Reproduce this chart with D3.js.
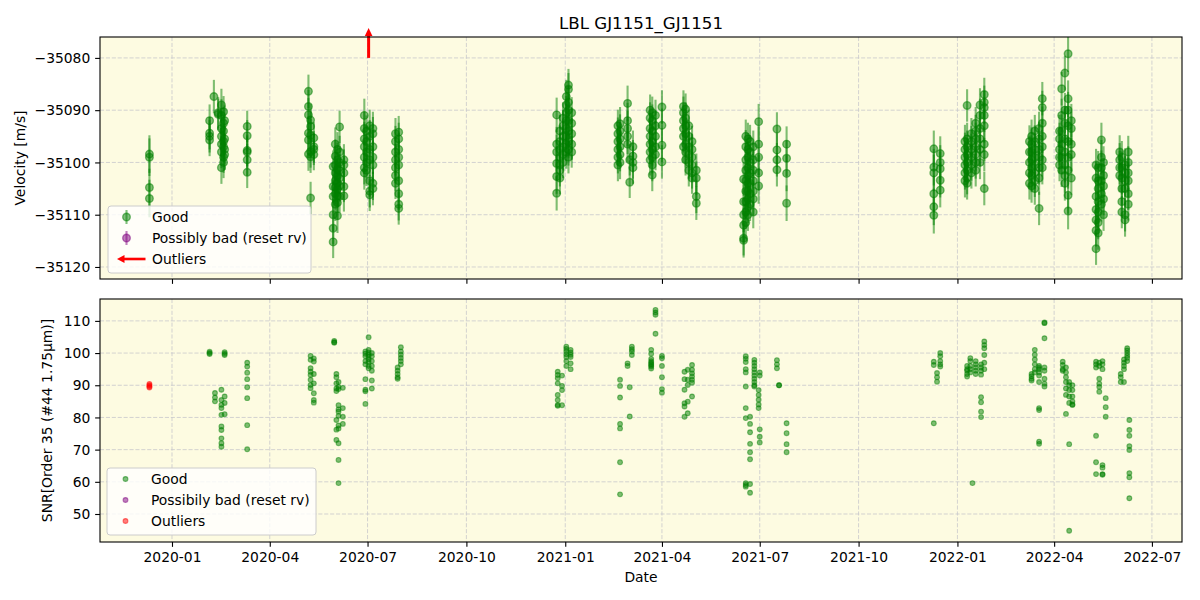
<!DOCTYPE html>
<html><head><meta charset="utf-8">
<script src="https://cdn.jsdelivr.net/npm/d3@7"></script>
<style>body{margin:0;background:#fff}text{font-family:"DejaVu Sans",sans-serif;fill:#000}</style>
</head><body><svg id="c" width="1200" height="600"></svg>
<script>
// ---------------- DATA ----------------
const titleText = "LBL GJ1151_GJ1151";
const dateTicks = ["2020-01-01","2020-04-01","2020-07-01","2020-10-01","2021-01-01","2021-04-01","2021-07-01","2021-10-01","2022-01-01","2022-04-01","2022-07-01"];
const dateTickLabels = ["2020-01","2020-04","2020-07","2020-10","2021-01","2021-04","2021-07","2021-10","2022-01","2022-04","2022-07"];
const rvTicks = [-35120,-35110,-35100,-35090,-35080];
const snrTicks = [50,60,70,80,90,100,110];

// velocity (Good) per night
const rvNights = ["2019-12-11","2020-02-05","2020-02-09","2020-02-13","2020-02-16","2020-02-18","2020-02-19","2020-03-11",
 "2020-05-07","2020-05-09","2020-05-12","2020-05-30","2020-06-01","2020-06-03","2020-06-05","2020-06-09",
 "2020-06-28","2020-06-30","2020-07-03","2020-07-06","2020-07-27","2020-07-30",
 "2020-12-24","2020-12-27","2020-12-30","2021-01-02","2021-01-04","2021-01-07",
 "2021-02-19","2021-02-21","2021-02-28","2021-03-02","2021-03-05","2021-03-21","2021-03-23","2021-03-26","2021-04-01",
 "2021-04-21","2021-04-23","2021-04-26","2021-04-29","2021-05-03",
 "2021-06-16","2021-06-18","2021-06-20","2021-06-22","2021-06-25","2021-06-30","2021-07-17","2021-07-26",
 "2021-12-10","2021-12-16","2022-01-08","2022-01-10","2022-01-14","2022-01-18","2022-01-22","2022-01-26",
 "2022-03-09","2022-03-11","2022-03-14","2022-03-18","2022-03-21",
 "2022-04-06","2022-04-08","2022-04-11","2022-04-14","2022-04-17",
 "2022-05-10","2022-05-12","2022-05-15","2022-05-17","2022-06-01","2022-06-03","2022-06-06","2022-06-09"];
const rvValues = [
 [-35098.4,-35099.0,-35104.8,-35106.9],
 [-35092.0,-35094.4,-35095.7,-35095.0],
 [-35087.4],
 [-35090.5,-35090.8],
 [-35089.0,-35091.0,-35093.5,-35095.0,-35096.5,-35098.0,-35101.0],
 [-35090.3,-35092.5,-35094.0,-35096.0,-35097.0,-35099.0,-35100.0],
 [-35092.0,-35095.5,-35097.5,-35098.5],
 [-35093.1,-35094.9,-35097.7,-35098.0,-35099.5,-35101.9],
 [-35086.4,-35089.3,-35090.9,-35094.4,-35095.7,-35098.4],
 [-35091.9,-35093.1,-35094.8,-35097.9,-35098.9,-35106.8],
 [-35095.3,-35097.5,-35098.5,-35097.0],
 [-35100.8,-35104.6,-35106.5,-35110.0,-35112.6,-35115.2],
 [-35096.5,-35098.8,-35100.5,-35102.0,-35103.5,-35104.8,-35106.0,-35108.0],
 [-35097.5,-35099.5,-35101.3,-35102.6,-35103.9,-35105.1,-35106.4,-35107.7,-35110.2],
 [-35093.2,-35098.0,-35100.0,-35101.5,-35103.0,-35104.5,-35106.5],
 [-35099.5,-35102.0,-35104.6,-35106.4,-35100.5],
 [-35091.0,-35093.5,-35095.5,-35097.0,-35099.0,-35101.0,-35102.0],
 [-35094.0,-35096.0,-35098.0,-35100.0,-35101.5],
 [-35093.0,-35095.0,-35097.5,-35099.5,-35103.5,-35105.5,-35106.2],
 [-35093.5,-35094.5,-35097.0,-35099.0,-35100.5,-35104.0,-35105.0],
 [-35094.5,-35096.0,-35098.0,-35099.5,-35101.0,-35102.5,-35104.0],
 [-35094.2,-35095.5,-35097.5,-35099.0,-35100.5,-35103.5,-35106.0,-35108.0,-35108.8],
 [-35090.9,-35096.5,-35098.0,-35100.2,-35102.7,-35105.9],
 [-35094.0,-35096.0,-35097.5,-35099.0,-35100.5,-35101.5,-35103.0],
 [-35091.5,-35093.0,-35095.0,-35097.0,-35098.5,-35100.0],
 [-35087.4,-35089.0,-35090.5,-35092.0,-35093.5,-35095.0,-35096.5,-35098.0],
 [-35085.2,-35086.0,-35088.5,-35090.0,-35092.0,-35094.0,-35096.0,-35097.5,-35099.0],
 [-35090.5,-35092.5,-35094.5,-35096.5,-35098.0],
 [-35093.0,-35094.5,-35096.0,-35097.5,-35099.0,-35100.5],
 [-35092.6,-35094.0,-35095.5,-35097.0,-35098.5,-35100.0],
 [-35088.7,-35092.0,-35093.5,-35095.0,-35096.5],
 [-35103.8,-35099.5],
 [-35097.0,-35098.8,-35100.0,-35101.0],
 [-35090.0,-35091.5,-35093.5,-35095.0,-35096.5,-35098.0,-35099.5],
 [-35090.5,-35092.0,-35094.0,-35096.0,-35097.5,-35099.0,-35100.5,-35102.4],
 [-35091.0,-35093.0,-35095.0,-35097.0,-35098.5],
 [-35089.4,-35092.9,-35096.7,-35099.9],
 [-35089.3,-35090.5,-35092.0,-35093.5,-35095.0,-35097.0],
 [-35089.8,-35091.5,-35093.0,-35094.5,-35096.5,-35098.0,-35099.5],
 [-35093.0,-35095.0,-35097.0,-35098.5,-35100.0,-35101.5],
 [-35096.0,-35097.5,-35099.0,-35100.5,-35102.0,-35103.0],
 [-35101.5,-35103.0,-35106.5,-35107.8],
 [-35103.2,-35107.5,-35110.0,-35112.0,-35114.5,-35114.9],
 [-35095.0,-35097.0,-35099.5,-35101.5,-35103.5,-35105.5,-35107.5,-35109.5,-35111.5],
 [-35095.5,-35097.5,-35099.0,-35101.0,-35102.5,-35104.0,-35105.5,-35107.0,-35108.5,-35110.0],
 [-35096.0,-35098.0,-35100.0,-35102.0,-35104.0,-35106.0,-35108.0],
 [-35097.0,-35099.5,-35101.5,-35103.5,-35105.5,-35107.0,-35109.5],
 [-35092.2,-35096.5,-35099.0,-35102.0,-35104.5],
 [-35093.6,-35097.6,-35099.5,-35101.4],
 [-35096.5,-35099.2,-35102.1,-35107.8],
 [-35097.4,-35100.9,-35102.0,-35106.0,-35108.5,-35110.1],
 [-35098.3,-35100.0,-35101.2,-35103.4,-35105.3],
 [-35096.0,-35097.5,-35099.0,-35100.5,-35102.0,-35103.5],
 [-35089.1,-35095.5,-35097.0,-35098.5,-35100.0,-35101.5,-35103.0,-35104.0],
 [-35094.5,-35096.0,-35097.5,-35099.0,-35100.5,-35102.0],
 [-35092.5,-35094.0,-35095.5,-35097.0,-35098.5,-35100.0,-35101.5],
 [-35089.0,-35091.0,-35093.5,-35095.5,-35097.5,-35100.0],
 [-35087.0,-35088.5,-35089.5,-35091.0,-35093.0,-35096.5,-35098.5,-35105.0],
 [-35096.0,-35098.0,-35100.0,-35102.0,-35104.0],
 [-35095.0,-35096.5,-35098.0,-35099.5,-35101.0,-35102.5,-35104.5],
 [-35094.0,-35096.0,-35097.5,-35099.0,-35100.5,-35102.0,-35103.5,-35105.0],
 [-35093.5,-35095.5,-35097.5,-35099.0,-35101.0,-35103.0,-35108.8],
 [-35087.8,-35089.5,-35092.5,-35095.0,-35097.0,-35099.5,-35101.0],
 [-35094.0,-35095.5,-35097.5,-35099.0,-35100.5],
 [-35085.9,-35091.0,-35094.0,-35096.5,-35099.0,-35101.5],
 [-35082.9,-35090.0,-35092.5,-35095.5,-35098.0,-35100.5,-35102.5,-35104.0],
 [-35079.2,-35087.8,-35090.0,-35093.0,-35096.0,-35099.0,-35101.5,-35106.3,-35109.3],
 [-35092.0,-35093.5,-35096.5,-35098.5,-35103.0],
 [-35100.5,-35103.0,-35106.5,-35109.0,-35111.0,-35113.0,-35116.5],
 [-35101.0,-35103.5,-35105.0,-35107.5,-35109.5,-35111.5,-35113.5],
 [-35095.7,-35099.0,-35101.0,-35103.5,-35106.0,-35108.0],
 [-35100.0,-35102.5,-35104.5,-35107.0,-35110.0],
 [-35098.0,-35099.5,-35101.0,-35102.5],
 [-35099.0,-35101.0,-35103.0,-35105.0,-35107.5,-35109.5],
 [-35100.5,-35102.0,-35103.5,-35105.0,-35110.0,-35111.0],
 [-35098.0,-35100.0,-35102.0,-35103.5,-35106.0,-35108.0]];
// typical velocity uncertainty per night [m/s]
const rvNightErrors = [3.6,3.1,3.2,3.0,3.1,3.0,2.9,3.0,3.2,3.1,3.0,3.1,3.2,3.3,3.1,3.0,3.2,3.0,3.1,3.2,3.0,3.1,
 3.3,3.1,3.0,3.2,3.1,3.0,3.1,3.2,3.4,3.0,3.1,3.0,3.1,3.0,3.2,3.1,3.0,3.1,3.0,3.2,
 3.3,3.2,3.1,3.2,3.1,3.4,3.2,3.4,3.5,3.3,3.2,3.1,3.0,3.1,3.2,3.2,3.1,3.2,3.1,3.2,3.2,
 3.1,3.2,3.3,3.5,3.2,3.1,3.2,3.3,3.1,3.2,3.1,3.2,3.1];
// outlier above the plotted range (drawn as an arrow)
const rvOutlierArrowNights = ["2020-07-02"];

// SNR (Good) per night
const snrNights = ["2020-02-05","2020-02-10","2020-02-16","2020-02-19","2020-03-11","2020-05-09","2020-05-12",
 "2020-05-31","2020-06-02","2020-06-04","2020-06-08","2020-06-29","2020-07-02","2020-07-05","2020-07-29","2020-08-01",
 "2020-12-25","2020-12-29","2021-01-02","2021-01-06","2021-02-21","2021-02-28","2021-03-02","2021-03-04",
 "2021-03-22","2021-03-26","2021-04-01","2021-04-22","2021-04-25","2021-04-29",
 "2021-06-18","2021-06-22","2021-06-26","2021-06-30","2021-07-01","2021-07-17","2021-07-19","2021-07-26",
 "2021-12-10","2021-12-13","2021-12-16","2022-01-10","2022-01-13","2022-01-15","2022-01-18","2022-01-23","2022-01-26",
 "2022-03-11","2022-03-14","2022-03-18","2022-03-23","2022-04-09","2022-04-12","2022-04-15","2022-04-18",
 "2022-05-10","2022-05-13","2022-05-16","2022-05-19","2022-06-02","2022-06-05","2022-06-08","2022-06-10"];
const snrValues = [
 [100.4,100.0,99.7],
 [87.6,86.2,85.0],
 [88.6,85.4,83.9,82.9,80.8,77.2,76.1,73.5,72.0,70.9],
 [100.3,99.8,99.4,86.5,84.5,81.0],
 [97.0,95.8,93.9,91.9,89.4,86.0,77.6,70.1],
 [99.1,97.9,95.3,94.2,93.2,91.7,90.1,89.1],
 [98.3,97.4,93.5,90.6,87.5,85.4,84.6],
 [103.8,103.4,103.2],
 [93.5,92.5,90.6,89.0,88.2,79.2,76.2,73.0],
 [91.0,89.5,88.8,83.8,82.5,81.8,80.5,77.5,76.6,72.0,66.8,59.6],
 [89.2,82.9,80.2,78.0],
 [100.5,99.8,99.0,97.5,96.5,91.9,88.6,88.1,84.2],
 [104.9,101.0,100.2,99.5,98.8,98.0,97.2,96.0,95.3],
 [100.0,99.0,97.5,96.0,94.5,91.5,89.0],
 [92.0,92.5,93.5,94.5,95.5],
 [96.5,97.5,98.5,99.5,100.5,101.8],
 [94.2,93.2,92.2,90.6,87.0,85.4,83.9,83.6],
 [89.8,88.5,93.0,83.8],
 [102.0,101.3,100.5,99.6,98.8,97.5,96.0],
 [101.0,100.2,99.5,98.8,96.8,95.0],
 [91.7,89.8,86.2,78.0,76.6,66.1,56.1],
 [96.8,96.0],
 [89.4,80.3],
 [102.0,101.2,100.5,99.4],
 [101.0,99.8,98.2,97.5,97.0,96.6,96.2,95.8,95.2],
 [113.4,112.6,111.9,106.0],
 [99.1,98.4,96.0,92.5,88.8,87.7],
 [94.2,91.9,88.6,84.4,83.4,80.2],
 [94.8,91.7,90.1,84.9,81.3],
 [96.3,94.8,93.7,92.7,91.7,90.8,86.5],
 [99.0,98.2,97.2,95.0,94.0,89.6,82.9,79.8,59.6,59.0,58.5],
 [80.2,78.0,75.4,71.8,69.2,67.0,59.3,56.6],
 [97.9,97.0,96.0,95.0,94.0,93.0,92.0,91.0,90.0,89.6],
 [88.5,87.0,85.5,84.0,82.9],
 [94.0,93.0,76.3,74.0,72.2],
 [97.8,96.5,95.3],
 [90.0,90.0],
 [78.2,75.1,71.7,69.2],
 [97.3,96.3,78.2],
 [93.8,92.5,91.1],
 [100.0,99.0,97.5,96.5,95.8],
 [94.5,93.5,92.7,96.0,95.0],
 [98.4,97.5,96.0,95.0,94.0],
 [59.6],
 [97.5,96.5,95.5,94.5,93.5],
 [96.5,95.5,94.5,93.3,86.3,84.7,81.8,80.1],
 [103.6,102.5,101.5,99.4,97.0,95.0],
 [93.5,92.8,92.0,91.5],
 [101.0,99.5,98.0,96.5,95.0,94.0],
 [96.0,95.5,95.0,94.0,93.0,91.0,82.9,82.3,72.5,71.8],
 [109.5,109.3,104.6,95.5,94.5,92.0,90.5,89.6],
 [97.3,96.3,95.0,94.5],
 [95.5,94.0,92.5,91.0,89.0,87.0,81.1],
 [91.0,90.0,88.5,86.5,84.5,71.7,44.8],
 [90.0,88.5,86.5,85.0,84.0,83.9],
 [97.3,96.5,95.5,74.3,66.1,62.4],
 [97.0,96.0,92.0,90.5,89.5,88.0],
 [97.5,96.5,95.0,65.2,64.4,62.2,62.4],
 [86.0,83.2,80.2],
 [93.5,92.5,91.0],
 [98.0,97.0,96.0,95.0,91.0],
 [101.5,100.8,100.0,99.2,98.5,97.5],
 [79.2,76.1,74.3,71.1,69.9,62.7,61.4,54.9]];
// SNR outliers
const snrOutlierNights = ["2019-12-11"];
const snrOutlierValues = [[90.4,90.0,89.6,89.3]];

// ---------------- DRAW ----------------
const svg = d3.select("#c");
const L = 100, R = 1182, T1 = 37, B1 = 279, T2 = 299, B2 = 542;
const parse = d3.utcParse("%Y-%m-%d");
const x = d3.scaleUtc().domain([parse("2019-10-26"), parse("2022-07-29")]).range([L, R]);
const y1 = d3.scaleLinear().domain([-35122.3, -35076.0]).range([B1, T1]);
const y2 = d3.scaleLinear().domain([41.3, 116.8]).range([B2, T2]);
const GREEN = "#008000", FS = 13.89;

function flat(nights, vals, errs) {
  const out = [];
  nights.forEach((n, i) => vals[i].forEach(v => out.push({d: parse(n), v, e: errs ? errs[i] : 0})));
  return out;
}
const rvPts = flat(rvNights, rvValues, rvNightErrors);
const snrPts = flat(snrNights, snrValues);
const outPts = flat(snrOutlierNights, snrOutlierValues);

const defs = svg.append("defs");
[["c1", T1, B1], ["c2", T2, B2]].forEach(([id, t, b]) =>
  defs.append("clipPath").attr("id", id).append("rect").attr("x", L).attr("y", t).attr("width", R - L).attr("height", b - t));

function panel(t, b, y, yTicks, clip, showXLabels) {
  const g = svg.append("g");
  g.append("rect").attr("x", L).attr("y", t).attr("width", R - L).attr("height", b - t).attr("fill", "#fdfbe1");
  const grid = g.append("g").attr("stroke", "#c8c8cc").attr("stroke-width", 0.8).attr("stroke-dasharray", "4.1,1.8");
  dateTicks.forEach(s => { const xx = x(parse(s)); grid.append("line").attr("x1", xx).attr("x2", xx).attr("y1", t).attr("y2", b); });
  yTicks.forEach(v => grid.append("line").attr("x1", L).attr("x2", R).attr("y1", y(v)).attr("y2", y(v)));
  const ax = svg.append("g").attr("transform", `translate(0,${b})`)
    .call(d3.axisBottom(x).tickValues(dateTicks.map(parse)).tickSize(4.86).tickPadding(4.86)
      .tickFormat((d, i) => showXLabels ? dateTickLabels[i] : ""));
  const ay = svg.append("g").attr("transform", `translate(${L},0)`)
    .call(d3.axisLeft(y).tickValues(yTicks).tickSize(4.86).tickPadding(4.86)
      .tickFormat(d => d < 0 ? "\u2212" + Math.abs(d) : String(d)));
  [ax, ay].forEach(a => {
    a.select(".domain").remove();
    a.selectAll("line").attr("stroke", "#000").attr("stroke-width", 1.1);
    a.selectAll("text").attr("font-size", FS).attr("font-family", "DejaVu Sans").attr("fill", "#000");
  });
  ay.selectAll("text").attr("dy", "0.34em");
  ax.selectAll("text").attr("dy", "0.76em");
  const data = svg.append("g").attr("clip-path", `url(#${clip})`);
  return {data};
}

const p1 = panel(T1, B1, y1, rvTicks, "c1", false);
const p2 = panel(T2, B2, y2, snrTicks, "c2", true);

// top: error bars + markers
p1.data.append("g").selectAll("line").data(rvPts).join("line")
  .attr("x1", d => x(d.d)).attr("x2", d => x(d.d))
  .attr("y1", d => y1(d.v + d.e)).attr("y2", d => y1(d.v - d.e))
  .attr("stroke", GREEN).attr("stroke-opacity", 0.5).attr("stroke-width", 2.1);
p1.data.append("g").selectAll("circle").data(rvPts).join("circle")
  .attr("cx", d => x(d.d)).attr("cy", d => y1(d.v)).attr("r", 3.8)
  .attr("fill", GREEN).attr("fill-opacity", 0.5)
  .attr("stroke", GREEN).attr("stroke-opacity", 0.5).attr("stroke-width", 1.4);

// arrow for out-of-range outlier
rvOutlierArrowNights.forEach(n => {
  const xx = x(parse(n));
  const y0 = y1(-35080), ytip = T1 - 9;
  svg.append("line").attr("x1", xx).attr("x2", xx).attr("y1", y0).attr("y2", ytip + 6)
    .attr("stroke", "red").attr("stroke-width", 3);
  svg.append("path").attr("d", `M${xx},${ytip} L${xx - 3.8},${ytip + 8} L${xx + 3.8},${ytip + 8} Z`).attr("fill", "red");
});

// bottom: SNR markers
p2.data.append("g").selectAll("circle").data(snrPts).join("circle")
  .attr("cx", d => x(d.d)).attr("cy", d => y2(d.v)).attr("r", 2.4)
  .attr("fill", GREEN).attr("fill-opacity", 0.5)
  .attr("stroke", GREEN).attr("stroke-opacity", 0.5).attr("stroke-width", 1.1);
p2.data.append("g").selectAll("circle").data(outPts).join("circle")
  .attr("cx", d => x(d.d)).attr("cy", d => y2(d.v)).attr("r", 2.4)
  .attr("fill", "red").attr("fill-opacity", 0.5)
  .attr("stroke", "red").attr("stroke-opacity", 0.5).attr("stroke-width", 1.1);

// frames
[[T1, B1], [T2, B2]].forEach(([t, b]) =>
  svg.append("rect").attr("x", L).attr("y", t).attr("width", R - L).attr("height", b - t)
    .attr("fill", "none").attr("stroke", "#000").attr("stroke-width", 1.1));

// texts
svg.append("text").attr("x", (L + R) / 2).attr("y", 29).attr("text-anchor", "middle").attr("font-size", 16.67).text(titleText);
svg.append("text").attr("x", (L + R) / 2).attr("y", 582).attr("text-anchor", "middle").attr("font-size", FS).text("Date");
svg.append("text").attr("transform", `translate(25,${(T1 + B1) / 2}) rotate(-90)`).attr("text-anchor", "middle").attr("font-size", FS).text("Velocity [m/s]");
svg.append("text").attr("transform", `translate(52,${(T2 + B2) / 2}) rotate(-90)`).attr("text-anchor", "middle").attr("font-size", FS).text("SNR[Order 35 (#44 1.75\u03bcm)]");

// legends
function legend(x0, y0, w, h, rows, kind) {
  const g = svg.append("g");
  g.append("rect").attr("x", x0).attr("y", y0).attr("width", w).attr("height", h).attr("rx", 3)
    .attr("fill", "#fff").attr("fill-opacity", 0.8).attr("stroke", "#cccccc").attr("stroke-width", 1);
  rows.forEach((r, i) => {
    const cy = y0 + 11 + i * 21, mx = x0 + 18.5;
    if (r.type === "arrow") {
      g.append("line").attr("x1", mx - 5).attr("x2", mx + 19).attr("y1", cy).attr("y2", cy).attr("stroke", "red").attr("stroke-width", 2.6);
      g.append("path").attr("d", `M${mx - 9.5},${cy} L${mx - 2},${cy - 4} L${mx - 2},${cy + 4} Z`).attr("fill", "red");
    } else if (kind === "err") {
      g.append("line").attr("x1", mx).attr("x2", mx).attr("y1", cy - 7).attr("y2", cy + 7).attr("stroke", r.color).attr("stroke-opacity", 0.5).attr("stroke-width", 2.1);
      g.append("circle").attr("cx", mx).attr("cy", cy).attr("r", 3.8).attr("fill", r.color).attr("fill-opacity", 0.5).attr("stroke", r.color).attr("stroke-opacity", 0.5).attr("stroke-width", 1.4);
    } else {
      g.append("circle").attr("cx", mx).attr("cy", cy).attr("r", 2.4).attr("fill", r.color).attr("fill-opacity", 0.5).attr("stroke", r.color).attr("stroke-opacity", 0.5).attr("stroke-width", 1.1);
    }
    g.append("text").attr("x", x0 + 44).attr("y", cy + 5).attr("font-size", FS).text(r.label);
  });
}
legend(108, 206, 203, 67, [{label: "Good", color: GREEN}, {label: "Possibly bad (reset rv)", color: "#800080"}, {label: "Outliers", type: "arrow"}], "err");
legend(107, 468, 209, 67, [{label: "Good", color: GREEN}, {label: "Possibily bad (reset rv)", color: "#800080"}, {label: "Outliers", color: "red"}], "pt");
</script></body></html>
